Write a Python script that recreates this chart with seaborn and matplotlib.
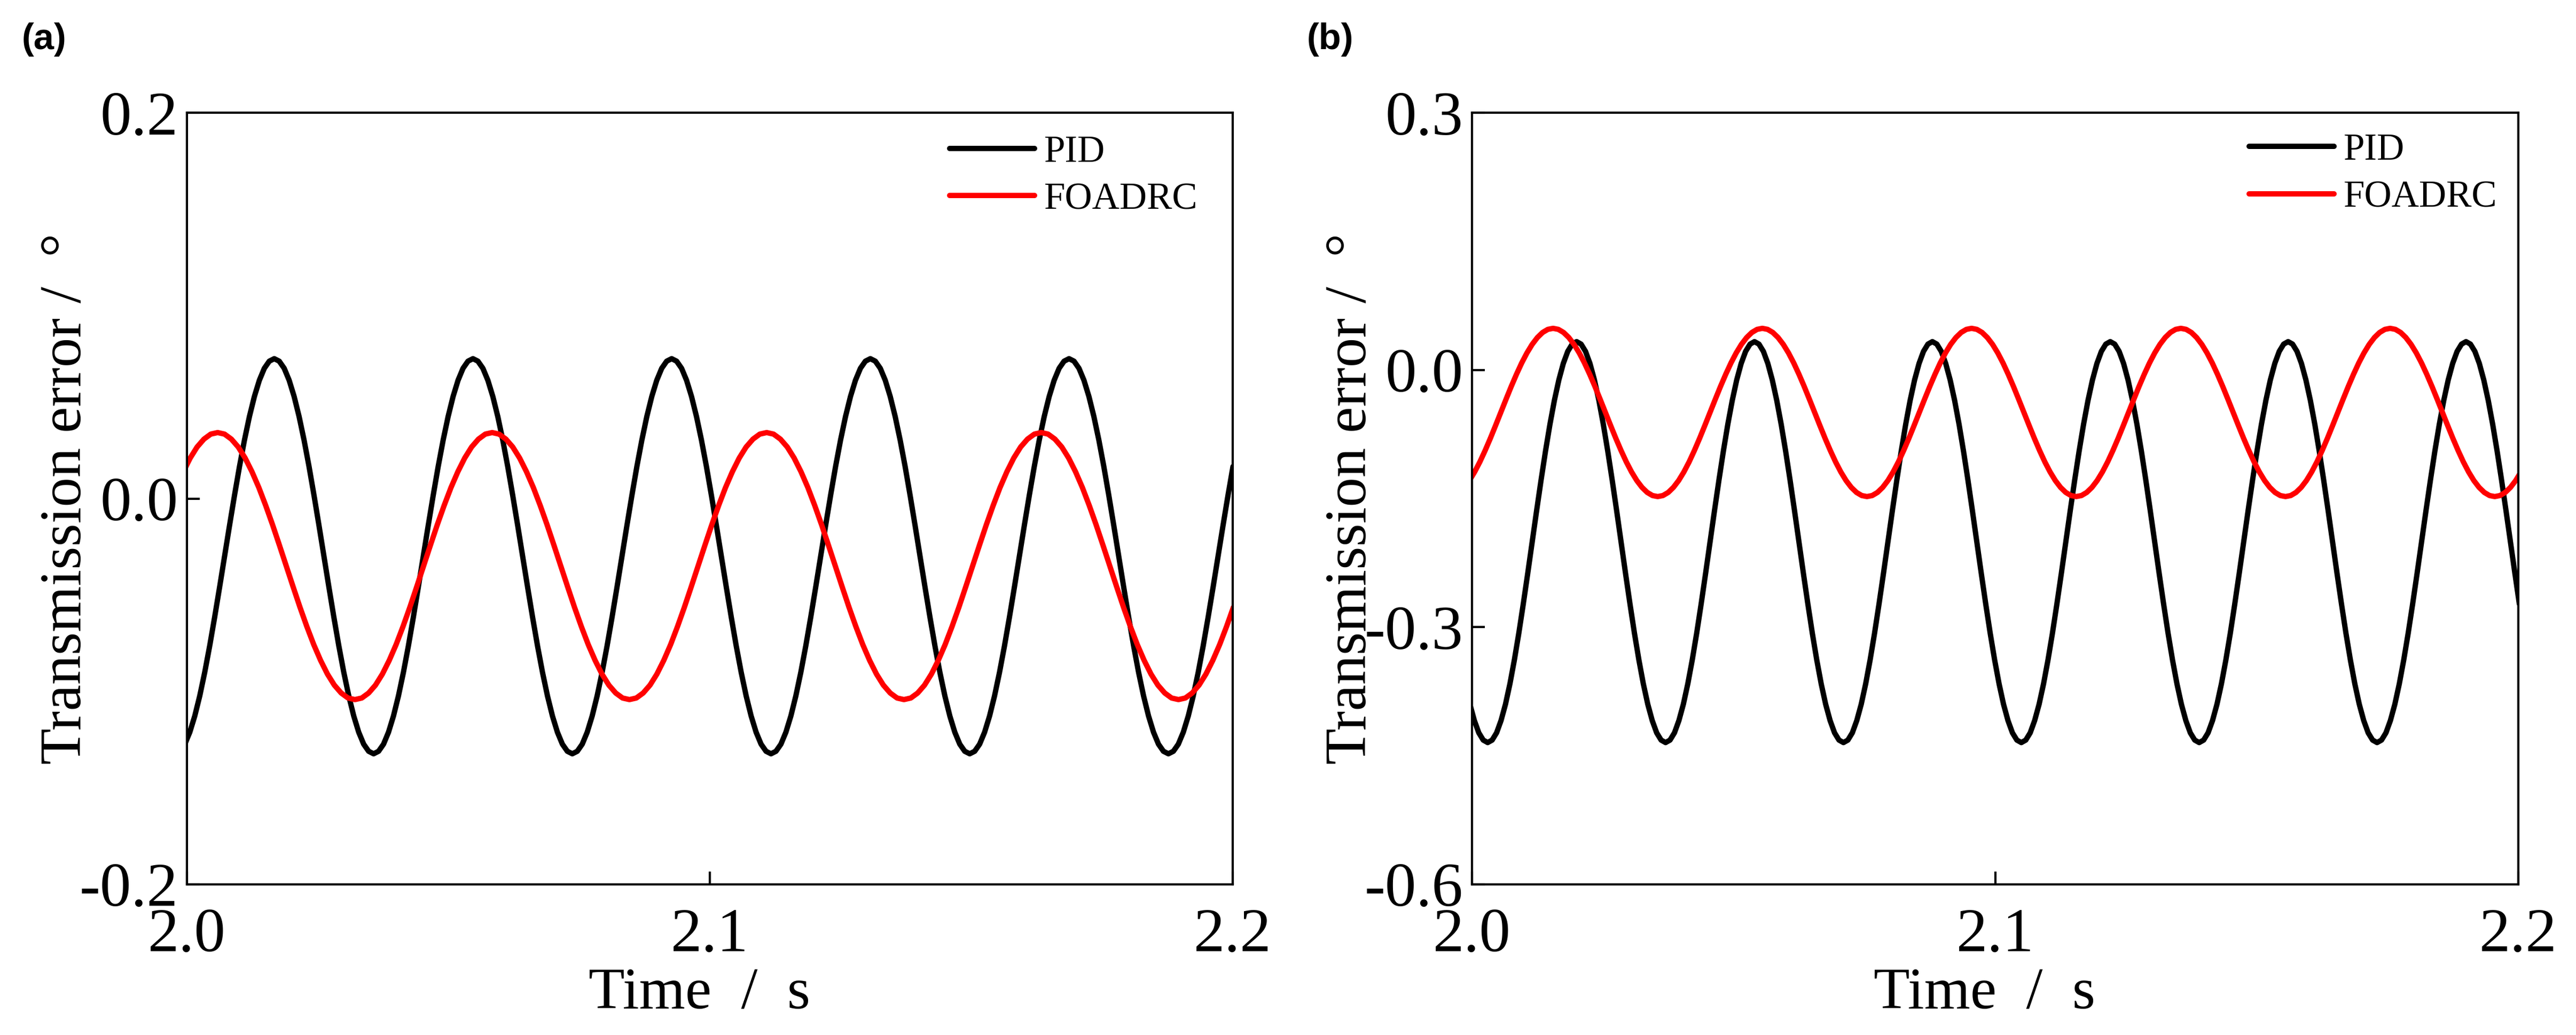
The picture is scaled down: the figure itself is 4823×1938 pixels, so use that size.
import matplotlib
matplotlib.use("Agg")
import matplotlib.pyplot as plt
import seaborn as sns

# ---------------- data ----------------
series_names = ["PID", "FOADRC"]
panel_tags = ["(a)", "(b)"]

time_ticks = [2.0, 2.1, 2.2]
time_tick_labels = ["2.0", "2.1", "2.2"]
err_ticks_a = [-0.2, 0.0, 0.2]
err_tick_labels_a = ["-0.2", "0.0", "0.2"]
err_ticks_b = [-0.6, -0.3, 0.0, 0.3]
err_tick_labels_b = ["-0.6", "-0.3", "0.0", "0.3"]

# panel (a) PID  (time in s, transmission error in deg)
pid_a_time = [
    1.9996, 2.00055, 2.0015, 2.00245, 2.0034, 2.00435, 2.0053, 2.00625, 2.0072, 2.00815,
    2.0091, 2.01005, 2.011, 2.01195, 2.0129, 2.01385, 2.0148, 2.01575, 2.0167, 2.01765,
    2.0186, 2.01955, 2.0205, 2.02145, 2.0224, 2.02335, 2.0243, 2.02525, 2.0262, 2.02715,
    2.0281, 2.02905, 2.03, 2.03095, 2.0319, 2.03285, 2.0338, 2.03475, 2.0357, 2.03665,
    2.0376, 2.03855, 2.0395, 2.04045, 2.0414, 2.04235, 2.0433, 2.04425, 2.0452, 2.04615,
    2.0471, 2.04805, 2.049, 2.04995, 2.0509, 2.05185, 2.0528, 2.05375, 2.0547, 2.05565,
    2.0566, 2.05755, 2.0585, 2.05945, 2.0604, 2.06135, 2.0623, 2.06325, 2.0642, 2.06515,
    2.0661, 2.06705, 2.068, 2.06895, 2.0699, 2.07085, 2.0718, 2.07275, 2.0737, 2.07465,
    2.0756, 2.07655, 2.0775, 2.07845, 2.0794, 2.08035, 2.0813, 2.08225, 2.0832, 2.08415,
    2.0851, 2.08605, 2.087, 2.08795, 2.0889, 2.08985, 2.0908, 2.09175, 2.0927, 2.09365,
    2.0946, 2.09555, 2.0965, 2.09745, 2.0984, 2.09935, 2.1003, 2.10125, 2.1022, 2.10315,
    2.1041, 2.10505, 2.106, 2.10695, 2.1079, 2.10885, 2.1098, 2.11075, 2.1117, 2.11265,
    2.1136, 2.11455, 2.1155, 2.11645, 2.1174, 2.11835, 2.1193, 2.12025, 2.1212, 2.12215,
    2.1231, 2.12405, 2.125, 2.12595, 2.1269, 2.12785, 2.1288, 2.12975, 2.1307, 2.13165,
    2.1326, 2.13355, 2.1345, 2.13545, 2.1364, 2.13735, 2.1383, 2.13925, 2.1402, 2.14115,
    2.1421, 2.14305, 2.144, 2.14495, 2.1459, 2.14685, 2.1478, 2.14875, 2.1497, 2.15065,
    2.1516, 2.15255, 2.1535, 2.15445, 2.1554, 2.15635, 2.1573, 2.15825, 2.1592, 2.16015,
    2.1611, 2.16205, 2.163, 2.16395, 2.1649, 2.16585, 2.1668, 2.16775, 2.1687, 2.16965,
    2.1706, 2.17155, 2.1725, 2.17345, 2.1744, 2.17535, 2.1763, 2.17725, 2.1782, 2.17915,
    2.1801, 2.18105, 2.182, 2.18295, 2.1839, 2.18485, 2.1858, 2.18675, 2.1877, 2.18865,
    2.1896, 2.19055, 2.1915, 2.19245, 2.1934, 2.19435, 2.1953, 2.19625, 2.1972, 2.19815,
    2.1991, 2.20005]
pid_a_err = [
    -0.1273, -0.1211, -0.1127, -0.1023, -0.0901, -0.0764, -0.0615, -0.0459, -0.0299, -0.0139,
    0.0017, 0.0166, 0.0303, 0.0425, 0.0529, 0.0613, 0.0675, 0.0712, 0.0725, 0.0712,
    0.0675, 0.0613, 0.0529, 0.0425, 0.0303, 0.0166, 0.0017, -0.0139, -0.0299, -0.0459,
    -0.0615, -0.0764, -0.0901, -0.1023, -0.1127, -0.1211, -0.1273, -0.1310, -0.1323, -0.1310,
    -0.1273, -0.1211, -0.1127, -0.1023, -0.0901, -0.0764, -0.0615, -0.0459, -0.0299, -0.0139,
    0.0017, 0.0166, 0.0303, 0.0425, 0.0529, 0.0613, 0.0675, 0.0712, 0.0725, 0.0712,
    0.0675, 0.0613, 0.0529, 0.0425, 0.0303, 0.0166, 0.0017, -0.0139, -0.0299, -0.0459,
    -0.0615, -0.0764, -0.0901, -0.1023, -0.1127, -0.1211, -0.1273, -0.1310, -0.1323, -0.1310,
    -0.1273, -0.1211, -0.1127, -0.1023, -0.0901, -0.0764, -0.0615, -0.0459, -0.0299, -0.0139,
    0.0017, 0.0166, 0.0303, 0.0425, 0.0529, 0.0613, 0.0675, 0.0712, 0.0725, 0.0712,
    0.0675, 0.0613, 0.0529, 0.0425, 0.0303, 0.0166, 0.0017, -0.0139, -0.0299, -0.0459,
    -0.0615, -0.0764, -0.0901, -0.1023, -0.1127, -0.1211, -0.1273, -0.1310, -0.1323, -0.1310,
    -0.1273, -0.1211, -0.1127, -0.1023, -0.0901, -0.0764, -0.0615, -0.0459, -0.0299, -0.0139,
    0.0017, 0.0166, 0.0303, 0.0425, 0.0529, 0.0613, 0.0675, 0.0712, 0.0725, 0.0712,
    0.0675, 0.0613, 0.0529, 0.0425, 0.0303, 0.0166, 0.0017, -0.0139, -0.0299, -0.0459,
    -0.0615, -0.0764, -0.0901, -0.1023, -0.1127, -0.1211, -0.1273, -0.1310, -0.1323, -0.1310,
    -0.1273, -0.1211, -0.1127, -0.1023, -0.0901, -0.0764, -0.0615, -0.0459, -0.0299, -0.0139,
    0.0017, 0.0166, 0.0303, 0.0425, 0.0529, 0.0613, 0.0675, 0.0712, 0.0725, 0.0712,
    0.0675, 0.0613, 0.0529, 0.0425, 0.0303, 0.0166, 0.0017, -0.0139, -0.0299, -0.0459,
    -0.0615, -0.0764, -0.0901, -0.1023, -0.1127, -0.1211, -0.1273, -0.1310, -0.1323, -0.1310,
    -0.1273, -0.1211, -0.1127, -0.1023, -0.0901, -0.0764, -0.0615, -0.0459, -0.0299, -0.0139,
    0.0017, 0.0166]

# panel (a) FOADRC
foa_a_time = [
    1.998, 1.9993125, 2.000625, 2.0019375, 2.00325, 2.0045625, 2.005875, 2.0071875, 2.0085, 2.0098125,
    2.011125, 2.0124375, 2.01375, 2.0150625, 2.016375, 2.0176875, 2.019, 2.0203125, 2.021625, 2.0229375,
    2.02425, 2.0255625, 2.026875, 2.0281875, 2.0295, 2.0308125, 2.032125, 2.0334375, 2.03475, 2.0360625,
    2.037375, 2.0386875, 2.04, 2.0413125, 2.042625, 2.0439375, 2.04525, 2.0465625, 2.047875, 2.0491875,
    2.0505, 2.0518125, 2.053125, 2.0544375, 2.05575, 2.0570625, 2.058375, 2.0596875, 2.061, 2.0623125,
    2.063625, 2.0649375, 2.06625, 2.0675625, 2.068875, 2.0701875, 2.0715, 2.0728125, 2.074125, 2.0754375,
    2.07675, 2.0780625, 2.079375, 2.0806875, 2.082, 2.0833125, 2.084625, 2.0859375, 2.08725, 2.0885625,
    2.089875, 2.0911875, 2.0925, 2.0938125, 2.095125, 2.0964375, 2.09775, 2.0990625, 2.100375, 2.1016875,
    2.103, 2.1043125, 2.105625, 2.1069375, 2.10825, 2.1095625, 2.110875, 2.1121875, 2.1135, 2.1148125,
    2.116125, 2.1174375, 2.11875, 2.1200625, 2.121375, 2.1226875, 2.124, 2.1253125, 2.126625, 2.1279375,
    2.12925, 2.1305625, 2.131875, 2.1331875, 2.1345, 2.1358125, 2.137125, 2.1384375, 2.13975, 2.1410625,
    2.142375, 2.1436875, 2.145, 2.1463125, 2.147625, 2.1489375, 2.15025, 2.1515625, 2.152875, 2.1541875,
    2.1555, 2.1568125, 2.158125, 2.1594375, 2.16075, 2.1620625, 2.163375, 2.1646875, 2.166, 2.1673125,
    2.168625, 2.1699375, 2.17125, 2.1725625, 2.173875, 2.1751875, 2.1765, 2.1778125, 2.179125, 2.1804375,
    2.18175, 2.1830625, 2.184375, 2.1856875, 2.187, 2.1883125, 2.189625, 2.1909375, 2.19225, 2.1935625,
    2.194875, 2.1961875, 2.1975, 2.1988125, 2.200125]
foa_a_err = [
    0.0057, 0.0139, 0.0210, 0.0267, 0.0308, 0.0334, 0.0342, 0.0334, 0.0308, 0.0267,
    0.0210, 0.0139, 0.0057, -0.0036, -0.0136, -0.0242, -0.0350, -0.0458, -0.0564, -0.0664,
    -0.0757, -0.0839, -0.0910, -0.0967, -0.1008, -0.1034, -0.1042, -0.1034, -0.1008, -0.0967,
    -0.0910, -0.0839, -0.0757, -0.0664, -0.0564, -0.0458, -0.0350, -0.0242, -0.0136, -0.0036,
    0.0057, 0.0139, 0.0210, 0.0267, 0.0308, 0.0334, 0.0342, 0.0334, 0.0308, 0.0267,
    0.0210, 0.0139, 0.0057, -0.0036, -0.0136, -0.0242, -0.0350, -0.0458, -0.0564, -0.0664,
    -0.0757, -0.0839, -0.0910, -0.0967, -0.1008, -0.1034, -0.1042, -0.1034, -0.1008, -0.0967,
    -0.0910, -0.0839, -0.0757, -0.0664, -0.0564, -0.0458, -0.0350, -0.0242, -0.0136, -0.0036,
    0.0057, 0.0139, 0.0210, 0.0267, 0.0308, 0.0334, 0.0342, 0.0334, 0.0308, 0.0267,
    0.0210, 0.0139, 0.0057, -0.0036, -0.0136, -0.0242, -0.0350, -0.0458, -0.0564, -0.0664,
    -0.0757, -0.0839, -0.0910, -0.0967, -0.1008, -0.1034, -0.1042, -0.1034, -0.1008, -0.0967,
    -0.0910, -0.0839, -0.0757, -0.0664, -0.0564, -0.0458, -0.0350, -0.0242, -0.0136, -0.0036,
    0.0057, 0.0139, 0.0210, 0.0267, 0.0308, 0.0334, 0.0342, 0.0334, 0.0308, 0.0267,
    0.0210, 0.0139, 0.0057, -0.0036, -0.0136, -0.0242, -0.0350, -0.0458, -0.0564, -0.0664,
    -0.0757, -0.0839, -0.0910, -0.0967, -0.1008, -0.1034, -0.1042, -0.1034, -0.1008, -0.0967,
    -0.0910, -0.0839, -0.0757, -0.0664, -0.0564]

# panel (b) PID
pid_b_time = [
    1.9996, 2.00045, 2.0013, 2.00215, 2.003, 2.00385, 2.0047, 2.00555, 2.0064, 2.00725,
    2.0081, 2.00895, 2.0098, 2.01065, 2.0115, 2.01235, 2.0132, 2.01405, 2.0149, 2.01575,
    2.0166, 2.01745, 2.0183, 2.01915, 2.02, 2.02085, 2.0217, 2.02255, 2.0234, 2.02425,
    2.0251, 2.02595, 2.0268, 2.02765, 2.0285, 2.02935, 2.0302, 2.03105, 2.0319, 2.03275,
    2.0336, 2.03445, 2.0353, 2.03615, 2.037, 2.03785, 2.0387, 2.03955, 2.0404, 2.04125,
    2.0421, 2.04295, 2.0438, 2.04465, 2.0455, 2.04635, 2.0472, 2.04805, 2.0489, 2.04975,
    2.0506, 2.05145, 2.0523, 2.05315, 2.054, 2.05485, 2.0557, 2.05655, 2.0574, 2.05825,
    2.0591, 2.05995, 2.0608, 2.06165, 2.0625, 2.06335, 2.0642, 2.06505, 2.0659, 2.06675,
    2.0676, 2.06845, 2.0693, 2.07015, 2.071, 2.07185, 2.0727, 2.07355, 2.0744, 2.07525,
    2.0761, 2.07695, 2.0778, 2.07865, 2.0795, 2.08035, 2.0812, 2.08205, 2.0829, 2.08375,
    2.0846, 2.08545, 2.0863, 2.08715, 2.088, 2.08885, 2.0897, 2.09055, 2.0914, 2.09225,
    2.0931, 2.09395, 2.0948, 2.09565, 2.0965, 2.09735, 2.0982, 2.09905, 2.0999, 2.10075,
    2.1016, 2.10245, 2.1033, 2.10415, 2.105, 2.10585, 2.1067, 2.10755, 2.1084, 2.10925,
    2.1101, 2.11095, 2.1118, 2.11265, 2.1135, 2.11435, 2.1152, 2.11605, 2.1169, 2.11775,
    2.1186, 2.11945, 2.1203, 2.12115, 2.122, 2.12285, 2.1237, 2.12455, 2.1254, 2.12625,
    2.1271, 2.12795, 2.1288, 2.12965, 2.1305, 2.13135, 2.1322, 2.13305, 2.1339, 2.13475,
    2.1356, 2.13645, 2.1373, 2.13815, 2.139, 2.13985, 2.1407, 2.14155, 2.1424, 2.14325,
    2.1441, 2.14495, 2.1458, 2.14665, 2.1475, 2.14835, 2.1492, 2.15005, 2.1509, 2.15175,
    2.1526, 2.15345, 2.1543, 2.15515, 2.156, 2.15685, 2.1577, 2.15855, 2.1594, 2.16025,
    2.1611, 2.16195, 2.1628, 2.16365, 2.1645, 2.16535, 2.1662, 2.16705, 2.1679, 2.16875,
    2.1696, 2.17045, 2.1713, 2.17215, 2.173, 2.17385, 2.1747, 2.17555, 2.1764, 2.17725,
    2.1781, 2.17895, 2.1798, 2.18065, 2.1815, 2.18235, 2.1832, 2.18405, 2.1849, 2.18575,
    2.1866, 2.18745, 2.1883, 2.18915, 2.19, 2.19085, 2.1917, 2.19255, 2.1934, 2.19425,
    2.1951, 2.19595, 2.1968, 2.19765, 2.1985, 2.19935, 2.2002]
pid_b_err = [
    -0.3899, -0.4089, -0.4232, -0.4317, -0.4346, -0.4317, -0.4232, -0.4089, -0.3899, -0.3661,
    -0.3382, -0.3070, -0.2730, -0.2374, -0.2008, -0.1642, -0.1286, -0.0947, -0.0634, -0.0355,
    -0.0117, 0.0075, 0.0216, 0.0301, 0.0330, 0.0301, 0.0216, 0.0075, -0.0117, -0.0355,
    -0.0634, -0.0947, -0.1286, -0.1642, -0.2008, -0.2374, -0.2730, -0.3070, -0.3382, -0.3661,
    -0.3899, -0.4089, -0.4232, -0.4317, -0.4346, -0.4317, -0.4232, -0.4089, -0.3899, -0.3661,
    -0.3382, -0.3070, -0.2730, -0.2374, -0.2008, -0.1642, -0.1286, -0.0947, -0.0634, -0.0355,
    -0.0117, 0.0075, 0.0216, 0.0301, 0.0330, 0.0301, 0.0216, 0.0075, -0.0117, -0.0355,
    -0.0634, -0.0947, -0.1286, -0.1642, -0.2008, -0.2374, -0.2730, -0.3070, -0.3382, -0.3661,
    -0.3899, -0.4089, -0.4232, -0.4317, -0.4346, -0.4317, -0.4232, -0.4089, -0.3899, -0.3661,
    -0.3382, -0.3070, -0.2730, -0.2374, -0.2008, -0.1642, -0.1286, -0.0947, -0.0634, -0.0355,
    -0.0117, 0.0075, 0.0216, 0.0301, 0.0330, 0.0301, 0.0216, 0.0075, -0.0117, -0.0355,
    -0.0634, -0.0947, -0.1286, -0.1642, -0.2008, -0.2374, -0.2730, -0.3070, -0.3382, -0.3661,
    -0.3899, -0.4089, -0.4232, -0.4317, -0.4346, -0.4317, -0.4232, -0.4089, -0.3899, -0.3661,
    -0.3382, -0.3070, -0.2730, -0.2374, -0.2008, -0.1642, -0.1286, -0.0947, -0.0634, -0.0355,
    -0.0117, 0.0075, 0.0216, 0.0301, 0.0330, 0.0301, 0.0216, 0.0075, -0.0117, -0.0355,
    -0.0634, -0.0947, -0.1286, -0.1642, -0.2008, -0.2374, -0.2730, -0.3070, -0.3382, -0.3661,
    -0.3899, -0.4089, -0.4232, -0.4317, -0.4346, -0.4317, -0.4232, -0.4089, -0.3899, -0.3661,
    -0.3382, -0.3070, -0.2730, -0.2374, -0.2008, -0.1642, -0.1286, -0.0947, -0.0634, -0.0355,
    -0.0117, 0.0075, 0.0216, 0.0301, 0.0330, 0.0301, 0.0216, 0.0075, -0.0117, -0.0355,
    -0.0634, -0.0947, -0.1286, -0.1642, -0.2008, -0.2374, -0.2730, -0.3070, -0.3382, -0.3661,
    -0.3899, -0.4089, -0.4232, -0.4317, -0.4346, -0.4317, -0.4232, -0.4089, -0.3899, -0.3661,
    -0.3382, -0.3070, -0.2730, -0.2374, -0.2008, -0.1642, -0.1286, -0.0947, -0.0634, -0.0355,
    -0.0117, 0.0075, 0.0216, 0.0301, 0.0330, 0.0301, 0.0216, 0.0075, -0.0117, -0.0355,
    -0.0634, -0.0947, -0.1286, -0.1642, -0.2008, -0.2374, -0.2730]

# panel (b) FOADRC
foa_b_time = [
    1.9995, 2.0005, 2.0015, 2.0025, 2.0035, 2.0045, 2.0055, 2.0065, 2.0075, 2.0085,
    2.0095, 2.0105, 2.0115, 2.0125, 2.0135, 2.0145, 2.0155, 2.0165, 2.0175, 2.0185,
    2.0195, 2.0205, 2.0215, 2.0225, 2.0235, 2.0245, 2.0255, 2.0265, 2.0275, 2.0285,
    2.0295, 2.0305, 2.0315, 2.0325, 2.0335, 2.0345, 2.0355, 2.0365, 2.0375, 2.0385,
    2.0395, 2.0405, 2.0415, 2.0425, 2.0435, 2.0445, 2.0455, 2.0465, 2.0475, 2.0485,
    2.0495, 2.0505, 2.0515, 2.0525, 2.0535, 2.0545, 2.0555, 2.0565, 2.0575, 2.0585,
    2.0595, 2.0605, 2.0615, 2.0625, 2.0635, 2.0645, 2.0655, 2.0665, 2.0675, 2.0685,
    2.0695, 2.0705, 2.0715, 2.0725, 2.0735, 2.0745, 2.0755, 2.0765, 2.0775, 2.0785,
    2.0795, 2.0805, 2.0815, 2.0825, 2.0835, 2.0845, 2.0855, 2.0865, 2.0875, 2.0885,
    2.0895, 2.0905, 2.0915, 2.0925, 2.0935, 2.0945, 2.0955, 2.0965, 2.0975, 2.0985,
    2.0995, 2.1005, 2.1015, 2.1025, 2.1035, 2.1045, 2.1055, 2.1065, 2.1075, 2.1085,
    2.1095, 2.1105, 2.1115, 2.1125, 2.1135, 2.1145, 2.1155, 2.1165, 2.1175, 2.1185,
    2.1195, 2.1205, 2.1215, 2.1225, 2.1235, 2.1245, 2.1255, 2.1265, 2.1275, 2.1285,
    2.1295, 2.1305, 2.1315, 2.1325, 2.1335, 2.1345, 2.1355, 2.1365, 2.1375, 2.1385,
    2.1395, 2.1405, 2.1415, 2.1425, 2.1435, 2.1445, 2.1455, 2.1465, 2.1475, 2.1485,
    2.1495, 2.1505, 2.1515, 2.1525, 2.1535, 2.1545, 2.1555, 2.1565, 2.1575, 2.1585,
    2.1595, 2.1605, 2.1615, 2.1625, 2.1635, 2.1645, 2.1655, 2.1665, 2.1675, 2.1685,
    2.1695, 2.1705, 2.1715, 2.1725, 2.1735, 2.1745, 2.1755, 2.1765, 2.1775, 2.1785,
    2.1795, 2.1805, 2.1815, 2.1825, 2.1835, 2.1845, 2.1855, 2.1865, 2.1875, 2.1885,
    2.1895, 2.1905, 2.1915, 2.1925, 2.1935, 2.1945, 2.1955, 2.1965, 2.1975, 2.1985,
    2.1995, 2.2005]
foa_b_err = [
    -0.1290, -0.1190, -0.1073, -0.0941, -0.0799, -0.0649, -0.0496, -0.0343, -0.0193, -0.0051,
    0.0081, 0.0198, 0.0298, 0.0378, 0.0437, 0.0473, 0.0485, 0.0473, 0.0437, 0.0378,
    0.0298, 0.0198, 0.0081, -0.0051, -0.0193, -0.0343, -0.0496, -0.0649, -0.0799, -0.0941,
    -0.1073, -0.1190, -0.1290, -0.1370, -0.1429, -0.1465, -0.1477, -0.1465, -0.1429, -0.1370,
    -0.1290, -0.1190, -0.1073, -0.0941, -0.0799, -0.0649, -0.0496, -0.0343, -0.0193, -0.0051,
    0.0081, 0.0198, 0.0298, 0.0378, 0.0437, 0.0473, 0.0485, 0.0473, 0.0437, 0.0378,
    0.0298, 0.0198, 0.0081, -0.0051, -0.0193, -0.0343, -0.0496, -0.0649, -0.0799, -0.0941,
    -0.1073, -0.1190, -0.1290, -0.1370, -0.1429, -0.1465, -0.1477, -0.1465, -0.1429, -0.1370,
    -0.1290, -0.1190, -0.1073, -0.0941, -0.0799, -0.0649, -0.0496, -0.0343, -0.0193, -0.0051,
    0.0081, 0.0198, 0.0298, 0.0378, 0.0437, 0.0473, 0.0485, 0.0473, 0.0437, 0.0378,
    0.0298, 0.0198, 0.0081, -0.0051, -0.0193, -0.0343, -0.0496, -0.0649, -0.0799, -0.0941,
    -0.1073, -0.1190, -0.1290, -0.1370, -0.1429, -0.1465, -0.1477, -0.1465, -0.1429, -0.1370,
    -0.1290, -0.1190, -0.1073, -0.0941, -0.0799, -0.0649, -0.0496, -0.0343, -0.0193, -0.0051,
    0.0081, 0.0198, 0.0298, 0.0378, 0.0437, 0.0473, 0.0485, 0.0473, 0.0437, 0.0378,
    0.0298, 0.0198, 0.0081, -0.0051, -0.0193, -0.0343, -0.0496, -0.0649, -0.0799, -0.0941,
    -0.1073, -0.1190, -0.1290, -0.1370, -0.1429, -0.1465, -0.1477, -0.1465, -0.1429, -0.1370,
    -0.1290, -0.1190, -0.1073, -0.0941, -0.0799, -0.0649, -0.0496, -0.0343, -0.0193, -0.0051,
    0.0081, 0.0198, 0.0298, 0.0378, 0.0437, 0.0473, 0.0485, 0.0473, 0.0437, 0.0378,
    0.0298, 0.0198, 0.0081, -0.0051, -0.0193, -0.0343, -0.0496, -0.0649, -0.0799, -0.0941,
    -0.1073, -0.1190, -0.1290, -0.1370, -0.1429, -0.1465, -0.1477, -0.1465, -0.1429, -0.1370,
    -0.1290, -0.1190]

# ---------------- style ----------------
sns.set_theme(style="ticks")
plt.rcParams["font.family"] = ["Liberation Serif", "DejaVu Serif"]
plt.rcParams["axes.unicode_minus"] = False
plt.rcParams["text.color"] = "black"
plt.rcParams["axes.labelcolor"] = "black"
plt.rcParams["axes.edgecolor"] = "black"
plt.rcParams["xtick.color"] = "black"
plt.rcParams["ytick.color"] = "black"

W, H = 4823, 1938
fig = plt.figure(figsize=(W / 300, H / 300), dpi=300)
fig.patch.set_facecolor("white")

ax_a = fig.add_axes([350 / W, 1 - 1656 / H, 1958 / W, 1445 / H])
ax_b = fig.add_axes([2756 / W, 1 - 1656 / H, 1959 / W, 1445 / H])

LW = 2.4
line_kw = dict(sort=False, estimator=None, solid_capstyle="round", solid_joinstyle="round")


def draw_panel(ax, t_pid, e_pid, t_foa, e_foa):
    sns.lineplot(x=t_pid, y=e_pid, ax=ax, color="#000000", linewidth=LW,
                 label=series_names[0], **line_kw)
    sns.lineplot(x=t_foa, y=e_foa, ax=ax, color="#FF0000", linewidth=LW,
                 label=series_names[1], **line_kw)


draw_panel(ax_a, pid_a_time, pid_a_err, foa_a_time, foa_a_err)
draw_panel(ax_b, pid_b_time, pid_b_err, foa_b_time, foa_b_err)

ax_a.set_ylim(-0.2, 0.2)
ax_a.set_yticks(err_ticks_a)
ax_a.set_yticklabels(err_tick_labels_a)
ax_b.set_ylim(-0.6, 0.3)
ax_b.set_yticks(err_ticks_b)
ax_b.set_yticklabels(err_tick_labels_b)

legend_anchor = {ax_a: (0.7293, 0.971), ax_b: (0.7425, 0.9737)}

for ax in (ax_a, ax_b):
    ax.set_facecolor("white")
    ax.grid(False)
    ax.set_xlim(2.0, 2.2)
    ax.set_xticks(time_ticks)
    ax.set_xticklabels(time_tick_labels)
    for sp in ax.spines.values():
        sp.set_visible(True)
        sp.set_linewidth(1.0)
        sp.set_color("black")
    ax.tick_params(axis="both", which="major", direction="in", length=5.8, width=1.0,
                   colors="black", labelsize=28, top=False, right=False)
    ax.tick_params(axis="x", pad=10.5)
    ax.tick_params(axis="y", pad=4)
    ax.set_xlabel("Time  /  s", fontsize=26.6)
    ax.xaxis.label.set_va("baseline")
    ax.xaxis.set_label_coords(0.490, -0.1606)
    ax.set_ylabel("Transmission error /  \u00b0", fontsize=26.6)
    ax.yaxis.label.set_va("baseline")
    ax.yaxis.set_label_coords(-0.1015, 0.5)
    leg = ax.legend(loc="upper left", bbox_to_anchor=legend_anchor[ax], frameon=False,
                    fontsize=17, handlelength=2.25, handletextpad=0.25,
                    labelspacing=0.33, borderpad=0.0, borderaxespad=0.0)
    for txt in leg.get_texts():
        txt.set_color("black")

for x0, tag in zip([41 / W, 2447 / W], panel_tags):
    fig.text(x0, 1 - 74 / H, tag, family=["Liberation Sans", "DejaVu Sans"],
             fontweight="bold", fontsize=16.5, ha="left", va="center", color="black")

fig.savefig("out.png", dpi=300, facecolor="white")
